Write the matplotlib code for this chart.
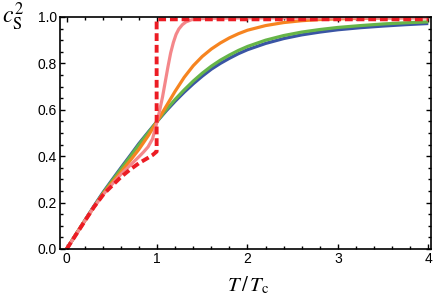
import matplotlib
matplotlib.use("Agg")
import matplotlib.pyplot as plt
from matplotlib.ticker import MultipleLocator, FixedLocator

plt.rcParams['mathtext.fontset'] = 'stix'
plt.rcParams['font.family'] = ['Liberation Sans', 'DejaVu Sans']

# Data
T_bg = [0, 0.1, 0.2, 0.3, 0.4, 0.5, 0.6, 0.7, 0.8, 0.9, 1.0, 1.1, 1.2, 1.3, 1.4, 1.5, 1.6, 1.7, 1.8, 1.9,
        2.0, 2.2, 2.4, 2.6, 2.8, 3.0, 3.25, 3.5, 3.75, 4.0]
cs2_green = [0, 0.062, 0.122, 0.182, 0.24, 0.293, 0.345, 0.397, 0.45, 0.5, 0.55, 0.6, 0.645, 0.686, 0.724,
             0.758, 0.788, 0.814, 0.836, 0.856, 0.873, 0.9, 0.92, 0.935, 0.946, 0.955, 0.963, 0.97, 0.975, 0.979]
cs2_blue = [0, 0.062, 0.123, 0.184, 0.243, 0.297, 0.35, 0.402, 0.455, 0.503, 0.55, 0.595, 0.637, 0.676, 0.712,
            0.745, 0.775, 0.8, 0.822, 0.842, 0.859, 0.886, 0.907, 0.923, 0.935, 0.945, 0.954, 0.961, 0.967, 0.972]

T_orange = [0, 0.1, 0.2, 0.3, 0.4, 0.5, 0.6, 0.7, 0.8, 0.9, 1.0, 1.1, 1.2, 1.3, 1.4, 1.5, 1.6, 1.7, 1.8, 1.9,
            2.0, 2.2, 2.4, 2.6, 2.8, 3.0, 3.5, 4.0]
cs2_orange = [0, 0.062, 0.122, 0.18, 0.236, 0.285, 0.332, 0.38, 0.43, 0.487, 0.55, 0.615, 0.68, 0.74, 0.79,
              0.83, 0.862, 0.888, 0.91, 0.928, 0.943, 0.963, 0.976, 0.984, 0.989, 0.992, 0.996, 0.998]

T_pink = [0, 0.1, 0.2, 0.3, 0.4, 0.5, 0.6, 0.7, 0.8, 0.85, 0.9, 0.95, 1.0, 1.03, 1.06, 1.09, 1.12, 1.15, 1.18,
          1.21, 1.24, 1.28, 1.32, 1.38, 1.45, 1.55, 1.7, 2.0, 3.0, 4.0]
cs2_pink = [0, 0.06, 0.121, 0.18, 0.233, 0.278, 0.322, 0.36, 0.398, 0.418, 0.44, 0.475, 0.55, 0.6, 0.655, 0.72,
            0.785, 0.845, 0.89, 0.925, 0.948, 0.967, 0.979, 0.988, 0.992, 0.994, 0.995, 0.996, 0.996, 0.996]

T_red = [0, 0.1, 0.2, 0.3, 0.4, 0.45, 0.5, 0.6, 0.7, 0.8, 0.9, 0.95, 0.98, 0.995, 0.995, 4.0]
cs2_red = [0, 0.06, 0.12, 0.18, 0.232, 0.253, 0.272, 0.31, 0.342, 0.37, 0.393, 0.405, 0.415, 0.42, 0.99, 0.99]

x_ticks = [0, 1, 2, 3, 4]
x_ticklabels = ['0', '1', '2', '3', '4']
y_ticks = [0.0, 0.2, 0.4, 0.6, 0.8, 1.0]
y_ticklabels = ['0.0', '0.2', '0.4', '0.6', '0.8', '1.0']

fig = plt.figure(figsize=(4.36, 3.02), dpi=100)
ax = fig.add_axes([60/436, 1-249/302, 371/436, 232/302])

ax.plot(T_bg, cs2_blue, color='#3a55a4', lw=2.3, solid_capstyle='butt', solid_joinstyle='round')
ax.plot(T_bg, cs2_green, color='#66b548', lw=2.3, solid_capstyle='butt', solid_joinstyle='round')
ax.plot(T_orange, cs2_orange, color='#f68420', lw=2.3, solid_capstyle='butt', solid_joinstyle='round')
ax.plot(T_pink, cs2_pink, color='#f4878a', lw=2.3, solid_capstyle='butt', solid_joinstyle='round')
ax.plot(T_red, cs2_red, color='#ec1c24', lw=2.8, dashes=(2.0, 1.0), clip_on=False)

ax.set_xlim(-0.074, 4.03)
ax.set_ylim(0, 1)

ax.xaxis.set_major_locator(FixedLocator(x_ticks))
ax.set_xticklabels(x_ticklabels)
ax.yaxis.set_major_locator(FixedLocator(y_ticks))
ax.set_yticklabels(y_ticklabels)
ax.xaxis.set_minor_locator(MultipleLocator(0.2))
ax.yaxis.set_minor_locator(MultipleLocator(0.05))

ax.tick_params(which='both', direction='in', top=True, right=True, width=1.0, colors='black', labelsize=10)
ax.tick_params(which='major', length=3.8, pad=2.2)
ax.tick_params(which='minor', length=2.2)

for s in ax.spines.values():
    s.set_linewidth(1.2)
    s.set_color('black')

fig.text(2/436, 1-17/302, r'$c_\mathrm{S}^2$', fontsize=17, ha='left', va='center')
fig.text(248/436, 1-285/302, r'$T\,/\,T_\mathrm{c}$', fontsize=15, ha='center', va='center')

fig.savefig('out.png', dpi=100)
